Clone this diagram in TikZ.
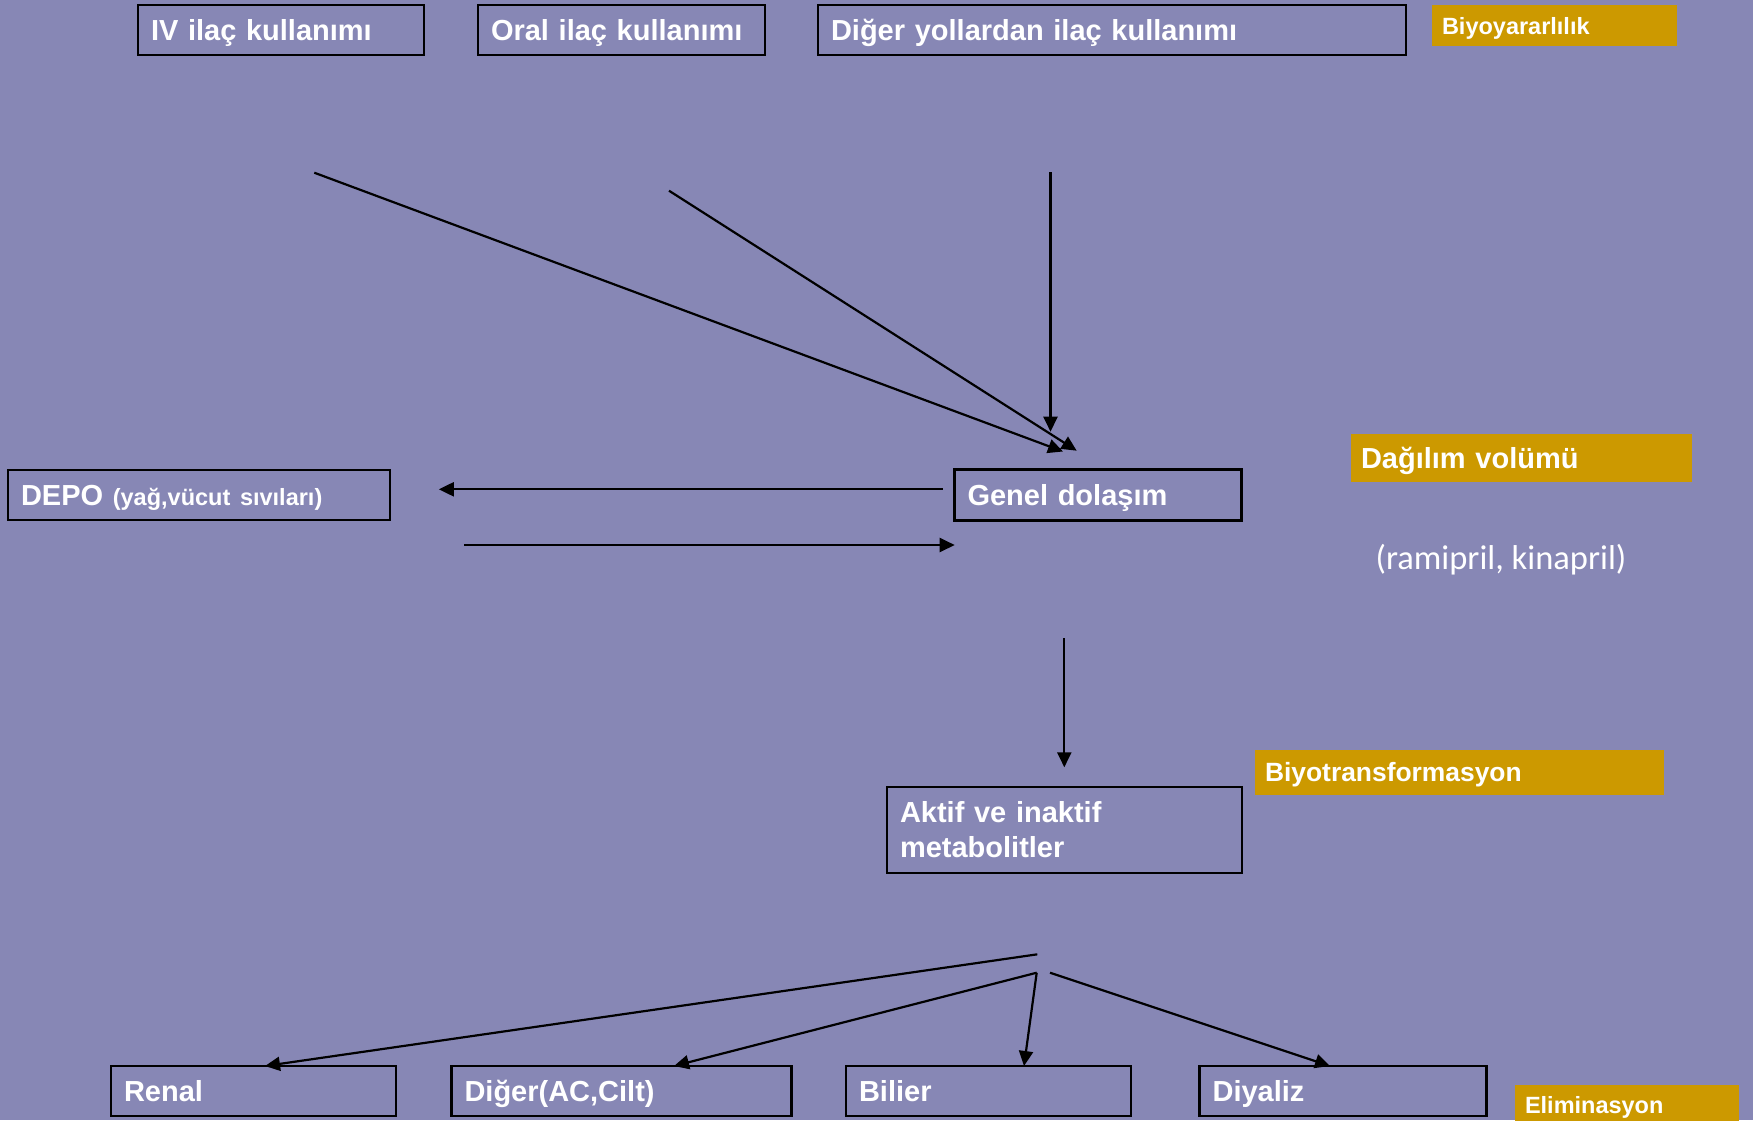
\documentclass[tikz,border=0pt]{standalone}
\usepackage{fontspec}
\setmainfont{Liberation Sans}
\newfontfamily\calfont{Carlito}
\usetikzlibrary{arrows.meta}
\definecolor{bgc}{RGB}{135,135,181}
\definecolor{gold}{RGB}{204,153,0}
\tikzset{
  box/.style={draw=black, line width=2.6pt, anchor=north west, inner xsep=13pt, inner ysep=0pt,
    outer sep=0pt, text=white, align=left, font=\bfseries\fontsize{29}{35}\selectfont},
  oneline/.style={text height=27.5pt, text depth=6.8pt},
  tag/.style={fill=gold, anchor=north west, inner xsep=10pt, inner ysep=0pt, outer sep=0pt,
    text=white, align=left},
  conn/.style={line width=2.2pt, draw=black, -{Triangle[length=15pt,width=14pt]}},
}
\begin{document}
\begin{tikzpicture}[x=1pt,y=-1pt]
\fill[bgc] (0,0) rectangle (1753,1120);
\useasboundingbox (0,0) rectangle (1753,1120);

% top boxes
\node[box,oneline,text width=260pt,minimum height=50pt] (iv) at (138,5) {IV ilaç kullanımı};
\node[box,oneline,text width=261pt,minimum height=50pt] (oral) at (478,5) {Oral ilaç kullanımı};
\node[box,oneline,text width=562pt,minimum height=50pt] (diger) at (818,5) {Diğer yollardan ilaç kullanımı};
\node[tag,text width=225pt,minimum height=41pt,text height=22.4pt,text depth=4.8pt,
  font=\bfseries\fontsize{23.5}{28}\selectfont] (biyo) at (1432,5) {Biyoyararlılık};

% middle
\node[box,oneline,text width=356pt,minimum height=50pt] (depo) at (8,470)
  {DEPO {\fontsize{23.5}{28}\selectfont (yağ,vücut sıvıları)}};
\node[box,oneline,text width=261pt,minimum height=51pt] (genel) at (954.5,469.5) {Genel dolaşım};
\node[tag,text width=321pt,minimum height=48pt,text height=27.5pt,text depth=6.8pt,
  font=\bfseries\fontsize{29}{35}\selectfont] (dagilim) at (1351,434) {Dağılım volümü};
\node[text=white,font=\calfont\fontsize{34.5}{40}\selectfont,inner sep=0pt] (ram) at (1501,560) {(ramipril, kinapril)};

\node[box,text width=329pt,minimum height=86pt] (aktif) at (887,787) {Aktif ve inaktif\\metabolitler};
\node[tag,text width=389pt,minimum height=45pt,text height=24.5pt,text depth=5.6pt,
  font=\bfseries\fontsize{26.4}{31}\selectfont] (biyotr) at (1255,750) {Biyotransformasyon};

% bottom boxes
\node[box,oneline,text width=259pt,minimum height=50pt] (renal) at (111,1066) {Renal};
\node[box,oneline,text width=314pt,minimum height=50pt] (digerb) at (451.5,1066) {Diğer(AC,Cilt)};
\node[box,oneline,text width=259pt,minimum height=50pt] (bilier) at (846,1066) {Bilier};
\node[box,oneline,text width=261pt,minimum height=50pt] (diyaliz) at (1199.6,1066) {Diyaliz};
\node[tag,text width=204pt,minimum height=44pt,text height=17pt,text depth=5pt,
  font=\bfseries\fontsize{23.5}{28}\selectfont] (elim) at (1515,1085) {Eliminasyon};

% connector end points
\coordinate (ivs) at (314.3,172.7);
\coordinate (ive) at (1063,451.5);
\coordinate (ors) at (669,190.7);
\coordinate (ore) at (1076.7,450.7);
\coordinate (dgs) at (1050.5,172);
\coordinate (dge) at (1050.5,431.7);
\coordinate (dps) at (942.6,489.3);
\coordinate (dpe) at (438.8,489.3);
\coordinate (gns) at (464.3,545);
\coordinate (gne) at (954.7,545);
\coordinate (mts) at (1064.3,638.4);
\coordinate (mte) at (1064.3,767.3);
\coordinate (e1s) at (1037.3,954.3);
\coordinate (e1e) at (265,1066);
\coordinate (e2s) at (1036.7,972.7);
\coordinate (e2e) at (674,1066);
\coordinate (e3e) at (1024,1066);
\coordinate (e4s) at (1050,972.7);
\coordinate (e4e) at (1330,1066);

\draw[conn] (ivs) -- (ive);
\draw[conn] (ors) -- (ore);
\draw[conn] (dgs) -- (dge);
\draw[conn] (dps) -- (dpe);
\draw[conn] (gns) -- (gne);
\draw[conn] (mts) -- (mte);
\draw[conn] (e1s) -- (e1e);
\draw[conn] (e2s) -- (e2e);
\draw[conn] (e2s) -- (e3e);
\draw[conn] (e4s) -- (e4e);
\end{tikzpicture}
\end{document}
